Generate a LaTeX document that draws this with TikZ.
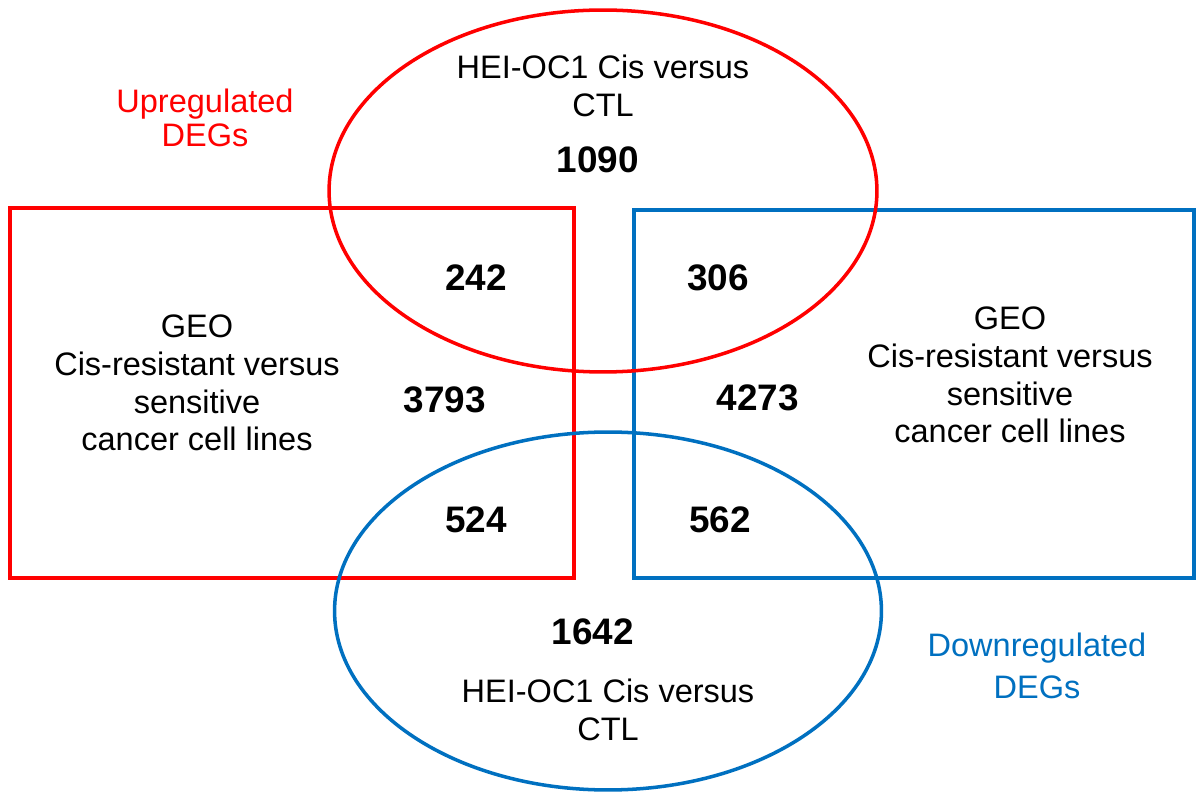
\documentclass[tikz,border=0pt]{standalone}
\usepackage{fontspec}
\setmainfont{Liberation Sans}
\usetikzlibrary{shapes.geometric}
\definecolor{upred}{RGB}{255,0,0}
\definecolor{downblue}{RGB}{0,112,192}

\begin{document}
\begin{tikzpicture}[
	x=0.02cm, y=-0.02cm,
	geobox/.style={
		rectangle,
		draw,
		line width=2pt,
		inner sep=0pt
	},
	hei/.style={
		ellipse,
		draw,
		line width=2pt,
		inner sep=0pt
	},
	caption/.style={
		align=center,
		font=\fontsize{18.5}{21.5}\selectfont
	},
	count/.style={
		font=\fontsize{21}{24}\selectfont\bfseries
	},
]

\useasboundingbox (0,0) rectangle (1197,793);

% Sets
\node[geobox,draw=upred,minimum width=11.28cm,minimum height=7.4cm] (upgeo) at (292,393) {};
\node[geobox,draw=downblue,minimum width=11.2cm,minimum height=7.36cm] (downgeo) at (914,394) {};
\node[hei,draw=upred,minimum width=10.96cm,minimum height=7.24cm] (uphei) at (603,191) {};
\node[hei,draw=downblue,minimum width=10.94cm,minimum height=7.16cm] (downhei) at (608,611) {};

% Titles
\node[caption,text=upred,font=\fontsize{18.5}{19.5}\selectfont] (uptitle) at (205,118) {Upregulated\\DEGs};
\node[caption,text=downblue,font=\fontsize{18.5}{23.5}\selectfont] (downtitle) at (1037,666) {Downregulated\\DEGs};

% Set names
\node[caption] (upheiname) at (603,86) {HEI-OC1 Cis versus\\CTL};
\node[caption] (downheiname) at (608,710) {HEI-OC1 Cis versus\\CTL};
\node[caption] (upgeoname) at (197,383) {GEO\\Cis-resistant versus\\sensitive\\cancer cell lines};
\node[caption] (downgeoname) at (1010,375) {GEO\\Cis-resistant versus\\sensitive\\cancer cell lines};

% Counts
\node[count] (n1090) at (598,160) {1090};
\node[count] (n242) at (476,278) {242};
\node[count] (n306) at (718,278) {306};
\node[count] (n3793) at (445,400) {3793};
\node[count] (n4273) at (758,398) {4273};
\node[count] (n524) at (476,520) {524};
\node[count] (n562) at (720,520) {562};
\node[count] (n1642) at (593,632) {1642};

\end{tikzpicture}
\end{document}
